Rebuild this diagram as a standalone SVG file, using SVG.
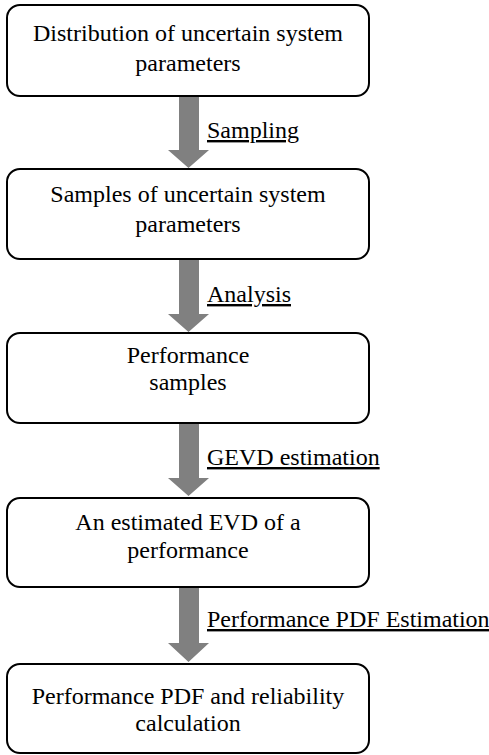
<svg xmlns="http://www.w3.org/2000/svg" width="489" height="755" viewBox="0 0 489 755">
<defs>
<style>
.box{fill:#fff;stroke:#000;stroke-width:2}
.t{font-size:24px;fill:#000;text-anchor:middle}
.lbl{font-size:24px;fill:#000;text-decoration:underline}
.arr{fill:#808080}
</style>
</defs>
<rect width="489" height="755" fill="#fff"/>
<g font-family="'Liberation Serif', 'Times New Roman', 'DejaVu Serif', serif">
<g id="connectors">
<g id="c1"><path class="arr" d="M179,96 H199 V150 H209 L188.5,168 L168,150 H179 Z"/><text class="lbl" x="207" y="138">Sampling</text></g>
<g id="c2"><path class="arr" d="M179,260 H199 V314 H209 L188.5,332 L168,314 H179 Z"/><text class="lbl" x="207" y="302">Analysis</text></g>
<g id="c3"><path class="arr" d="M179,424 H199 V478 H209 L188.5,496 L168,478 H179 Z"/><text class="lbl" x="207" y="465">GEVD estimation</text></g>
<g id="c4"><path class="arr" d="M179,588 H199 V643 H209 L188.5,662 L168,643 H179 Z"/><text class="lbl" x="207" y="627">Performance PDF Estimation</text></g>
</g>
<g id="n1"><rect class="box" x="7" y="5" width="362" height="91" rx="13"/><text class="t" x="188" y="41">Distribution of uncertain system</text><text class="t" x="188" y="71">parameters</text></g>
<g id="n2"><rect class="box" x="7" y="169" width="362" height="90" rx="13"/><text class="t" x="188" y="202">Samples of uncertain system</text><text class="t" x="188" y="232">parameters</text></g>
<g id="n3"><rect class="box" x="7" y="333" width="362" height="90" rx="13"/><text class="t" x="188" y="363">Performance</text><text class="t" x="188" y="390">samples</text></g>
<g id="n4"><rect class="box" x="7" y="498" width="362" height="89" rx="13"/><text class="t" x="188" y="530">An estimated EVD of a</text><text class="t" x="188" y="558">performance</text></g>
<g id="n5"><rect class="box" x="7" y="664" width="362" height="89" rx="13"/><text class="t" x="188" y="704">Performance PDF and reliability</text><text class="t" x="188" y="731">calculation</text></g>
</g>
</svg>
